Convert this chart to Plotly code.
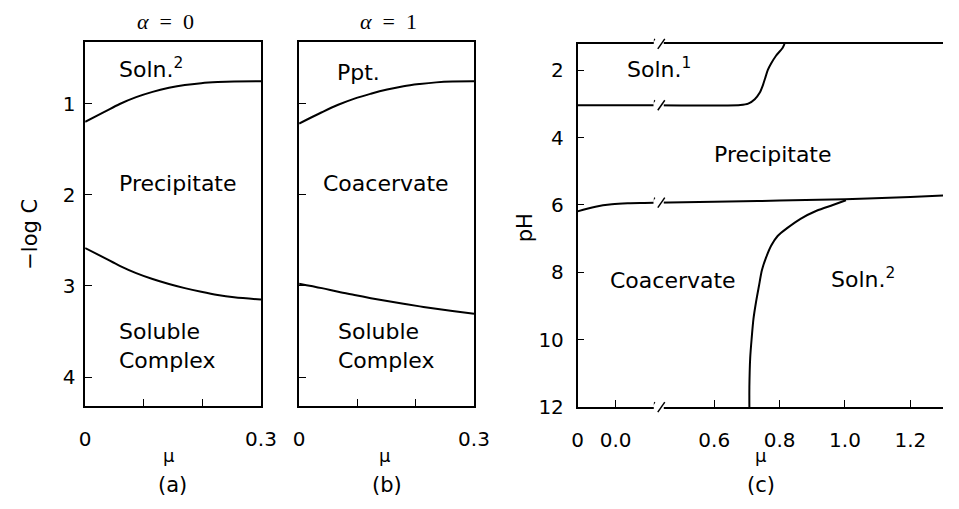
import plotly.graph_objects as go

# ---------------- data ----------------
# panel (a)  alpha = 0
mu_a = [0, 0.032, 0.059, 0.087, 0.115, 0.143, 0.17, 0.198, 0.226, 0.254, 0.3]
a_upper = [1.20, 1.095, 1.005, 0.93, 0.872, 0.828, 0.797, 0.777, 0.765, 0.758, 0.756]
a_lower = [2.585, 2.69, 2.78, 2.86, 2.925, 2.98, 3.025, 3.065, 3.10, 3.125, 3.15]
# panel (b)  alpha = 1
mu_b = [0, 0.039, 0.067, 0.095, 0.123, 0.151, 0.179, 0.207, 0.235, 0.263, 0.3]
b_upper = [1.22, 1.096, 1.014, 0.946, 0.893, 0.847, 0.81, 0.786, 0.768, 0.759, 0.757]
b_lower = [2.976, 3.025, 3.065, 3.10, 3.135, 3.167, 3.197, 3.225, 3.252, 3.276, 3.305]
# panel (c)  broken mu axis: left segment and right segment
c_left_mu_soln1 = [0, 0.2]
c_left_ph_soln1 = [3.04, 3.04]
c_right_mu_soln1 = [0.415, 0.68, 0.704, 0.724, 0.739, 0.749, 0.756, 0.764, 0.774, 0.789, 0.809, 0.815]
c_right_ph_soln1 = [3.04, 3.03, 2.99, 2.86, 2.67, 2.44, 2.23, 1.99, 1.80, 1.57, 1.34, 1.22]
c_left_mu_ph6 = [0, 0.047, 0.09, 0.133, 0.175, 0.2]
c_left_ph_ph6 = [6.19, 6.05, 5.98, 5.95, 5.94, 5.935]
c_right_mu_ph6 = [0.415, 0.6, 0.8, 1.0, 1.2, 1.3]
c_right_ph_ph6 = [5.93, 5.90, 5.87, 5.83, 5.76, 5.72]
c_mu_soln2 = [0.7075, 0.7075, 0.710, 0.7145, 0.720, 0.7275, 0.7365, 0.746, 0.759, 0.774,
              0.794, 0.824, 0.864, 0.913, 0.963, 1.003]
c_ph_soln2 = [12.0, 11.41, 10.54, 9.96, 9.38, 8.90, 8.42, 7.93, 7.55, 7.21,
              6.92, 6.68, 6.41, 6.17, 6.0, 5.86]

ab_yticks = [1, 2, 3, 4]
ab_xticks = [0, 0.3]
ab_xticklabels = ["0", "0.3"]
ab_minor_dtick = 0.1
c_yticks = [2, 4, 6, 8, 10, 12]
c_left_xticks = [0, 0.1]
c_left_xticklabels = ["0", "0.0"]
c_right_xticks = [0.6, 0.8, 1.0, 1.2]
c_right_xticklabels = ["0.6", "0.8", "1.0", "1.2"]

# ---------------- figure ----------------
W, H = 959, 509
FONT = "DejaVu Sans"


def px(x):
    return x / W


def py(y):
    return 1 - y / H


fig = go.Figure()
line = dict(color="black", width=2)


def add(x, y, xa, ya, shape="spline", smoothing=1.0):
    fig.add_trace(go.Scatter(x=x, y=y, mode="lines",
                             line=dict(line, shape=shape, smoothing=smoothing if shape == "spline" else None),
                             xaxis=xa, yaxis=ya, showlegend=False, hoverinfo="skip"))


add(mu_a, a_upper, "x", "y")
add(mu_a, a_lower, "x", "y")
add(mu_b, b_upper, "x2", "y2")
add(mu_b, b_lower, "x2", "y2")
add(c_left_mu_soln1, c_left_ph_soln1, "x3", "y3", "linear")
add(c_left_mu_ph6, c_left_ph_ph6, "x3", "y3")
add(c_right_mu_soln1, c_right_ph_soln1, "x4", "y4", smoothing=0.8)
add(c_right_mu_ph6, c_right_ph_ph6, "x4", "y4")
add(c_mu_soln2, c_ph_soln2, "x4", "y4", smoothing=0.8)

ax_common = dict(showgrid=False, zeroline=False, showline=True, linecolor="black", linewidth=1.5,
                 ticks="inside", ticklen=7, tickwidth=1.2, tickcolor="black",
                 tickfont=dict(family=FONT, size=20, color="black"))
minor_ab = dict(ticks="inside", ticklen=7, tickwidth=1.2, tickcolor="black",
                tick0=0, dtick=ab_minor_dtick, showgrid=False)

ab_ydom = [py(416), py(43)]
c_ydom = [py(417), py(45)]

fig.update_layout(
    width=W, height=H, margin=dict(l=0, r=0, t=0, b=0),
    paper_bgcolor="white", plot_bgcolor="white",
    xaxis=dict(ax_common, domain=[px(81), px(261)], range=[0, 0.3], mirror=True,
               tickvals=ab_xticks, ticktext=ab_xticklabels, minor=minor_ab,
               ticklabelstandoff=14, anchor="y"),
    yaxis=dict(ax_common, domain=ab_ydom, range=[4.32, 0.325], mirror=True,
               tickvals=ab_yticks, ticklabelstandoff=4, anchor="x"),
    xaxis2=dict(ax_common, domain=[px(300), px(479)], range=[0, 0.3], mirror=True,
                tickvals=ab_xticks, ticktext=ab_xticklabels, minor=minor_ab,
                ticklabelstandoff=14, anchor="y2"),
    yaxis2=dict(ax_common, domain=ab_ydom, range=[4.32, 0.325], mirror=True,
                tickvals=ab_yticks, showticklabels=False, anchor="x2"),
    xaxis3=dict(ax_common, domain=[px(585), px(663)], range=[0, 0.2], mirror=True,
                tickvals=c_left_xticks, ticktext=c_left_xticklabels, ticklabelstandoff=14, anchor="y3"),
    yaxis3=dict(ax_common, domain=c_ydom, range=[12, 1.22],
                tickvals=c_yticks, ticklabelstandoff=8, anchor="x3"),
    xaxis4=dict(ax_common, domain=[px(663), 1.0], range=[0.415, 1.30], mirror=True,
                tickvals=c_right_xticks, ticktext=c_right_xticklabels, ticklabelstandoff=14, anchor="y4"),
    yaxis4=dict(domain=c_ydom, range=[12, 1.22], visible=False, anchor="x4"),
)


# ---------------- text ----------------
def label(text, x, y, xanchor="center", size=22, family=FONT, angle=0, align="center"):
    fig.add_annotation(text=text, x=px(x), y=py(y), xref="paper", yref="paper",
                       xanchor=xanchor, yanchor="middle", showarrow=False, textangle=angle,
                       align=align, font=dict(family=family, size=size, color="black"))


label("<i>α</i>  =  0", 163, 22, family="Liberation Serif", size=22)
label("<i>α</i>  =  1", 391, 22, family="Liberation Serif", size=22)

label("Soln.<sup>2</sup>", 114, 70, xanchor="left")
label("Precipitate", 176, 188)
label("Soluble<br>Complex", 114, 354, xanchor="left", align="left")

label("Ppt.", 337, 74, xanchor="left")
label("Coacervate", 389, 188)
label("Soluble<br>Complex", 338, 354, xanchor="left", align="left")

label("Soln.<sup>1</sup>", 634, 70, xanchor="left")
label("Precipitate", 785, 158)
label("Coacervate", 616, 287, xanchor="left")
label("Soln.<sup>2</sup>", 842, 285, xanchor="left")

label("−log C", 25, 240, angle=-90, size=21)
label("pH", 531, 233, angle=-90, size=21)

label("μ", 167, 467, size=18)
label("μ", 388, 467, size=18)
label("μ", 773, 467, size=18)
label("(a)", 170, 497, size=21)
label("(b)", 390, 497, size=21)
label("(c)", 773, 497, size=21)


# ---------------- axis-break marks ----------------
def brk(xref, yref, xa, ya):
    common = dict(xref=xref, yref=yref, xsizemode="pixel", ysizemode="pixel",
                  xanchor=xa, yanchor=ya, layer="above")
    fig.add_shape(type="line", x0=-4, x1=10, y0=0, y1=0, line=dict(color="white", width=5), **common)
    fig.add_shape(type="line", x0=-6, x1=1, y0=-5, y1=5, line=dict(color="black", width=1.5), **common)
    fig.add_shape(type="line", x0=4, x1=11, y0=-5, y1=5, line=dict(color="black", width=1.5), **common)


x_break = c_right_mu_ph6[0]
brk("x4", "y4 domain", x_break, 0)
brk("x4", "y4 domain", x_break, 1)
brk("x4", "y4", x_break, c_right_ph_soln1[0])
brk("x4", "y4", x_break, c_right_ph_ph6[0])

fig.write_html("out.html")
